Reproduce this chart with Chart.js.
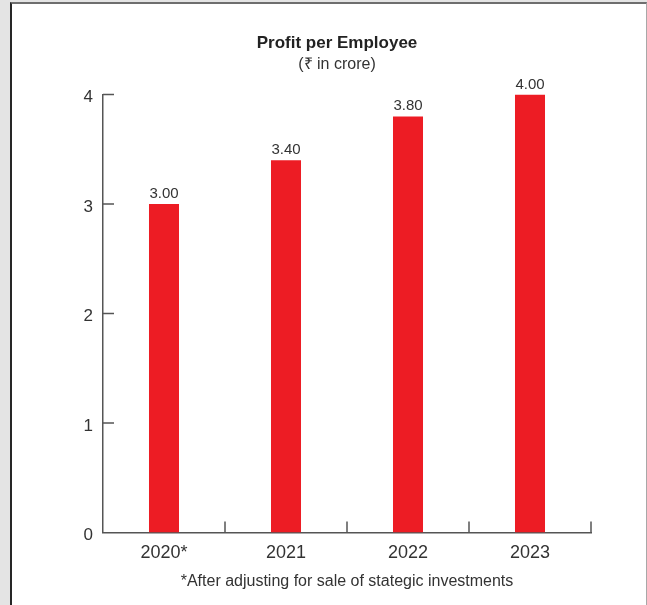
<!DOCTYPE html>
<html>
<head>
<meta charset="utf-8">
<title>Profit per Employee</title>
<script src="https://cdn.jsdelivr.net/npm/chart.js@4.4.0/dist/chart.umd.min.js"></script>
<style>
    html, body { margin: 0; padding: 0; background: #e4e4e4; }
    body { width: 647px; height: 605px; overflow: hidden; position: relative; }
    .panel {
        position: absolute; left: 10px; top: 2px;
        width: 634px; height: 603px;
        background: #fff;
        border-left: 2px solid #262626;
        border-top: 2px solid #6e6e6e;
        border-right: 1px solid #a8a8a8;
    }
    .panel canvas { display: block; }
</style>
</head>
<body>
<div class="panel">
    <canvas id="profitChart" width="634" height="601"></canvas>
</div>
<script>
// Datos del gráfico
const years = ['2020*', '2021', '2022', '2023'];
const profitPerEmployee = [3.00, 3.40, 3.80, 4.00];
const yTicks = [0, 1, 2, 3, 4];
const chartTitle = 'Profit per Employee';
const chartSubtitle = '(₹ in crore)';
const footnote = '*After adjusting for sale of stategic investments';

const AXIS_COLOR = '#555';
const TEXT_COLOR = '#333';

// Etiquetas de valor encima de cada barra
const valueLabels = {
    id: 'valueLabels',
    afterDatasetsDraw(chart) {
        const ctx = chart.ctx;
        const meta = chart.getDatasetMeta(0);
        ctx.save();
        ctx.font = '15px "Liberation Sans", Arial, sans-serif';
        ctx.fillStyle = TEXT_COLOR;
        ctx.textAlign = 'center';
        ctx.textBaseline = 'alphabetic';
        meta.data.forEach((bar, i) => {
            ctx.fillText(profitPerEmployee[i].toFixed(2), bar.x, bar.y - 6);
        });
        ctx.restore();
    }
};

// Marcas de los ejes hacia dentro del área del gráfico
const innerTicks = {
    id: 'innerTicks',
    afterDraw(chart) {
        const { ctx, chartArea, scales: { x, y } } = chart;
        ctx.save();
        ctx.strokeStyle = AXIS_COLOR;
        ctx.lineWidth = 1.5;
        ctx.beginPath();
        yTicks.forEach(v => {
            if (v === 0) return;
            const py = y.getPixelForValue(v);
            ctx.moveTo(chartArea.left, py);
            ctx.lineTo(chartArea.left + 11, py);
        });
        years.forEach((_, i) => {
            const px = x.getPixelForValue(i + 0.5);
            ctx.moveTo(px, chartArea.bottom);
            ctx.lineTo(px, chartArea.bottom - 11);
        });
        ctx.stroke();
        ctx.restore();
    }
};

Chart.defaults.font.family = '"Liberation Sans", Arial, sans-serif';
Chart.defaults.color = TEXT_COLOR;

new Chart(document.getElementById('profitChart'), {
    type: 'bar',
    data: {
        labels: years,
        datasets: [{
            data: profitPerEmployee,
            backgroundColor: '#ed1c24',
            borderWidth: 0,
            categoryPercentage: 1,
            barPercentage: 0.246
        }]
    },
    options: {
        responsive: false,
        animation: false,
        layout: { padding: { left: 16, right: 0, top: 0, bottom: 0 } },
        plugins: {
            legend: { display: false },
            tooltip: { enabled: false },
            title: {
                display: true,
                text: chartTitle,
                color: '#222',
                font: { size: 17, weight: 'bold' },
                padding: { top: 29, bottom: 0 }
            },
            subtitle: {
                display: true,
                text: chartSubtitle,
                color: TEXT_COLOR,
                font: { size: 16 },
                padding: { top: 2, bottom: 20 }
            }
        },
        scales: {
            x: {
                grid: { display: false, drawTicks: false },
                border: { display: true, color: AXIS_COLOR, width: 1.5 },
                ticks: { color: TEXT_COLOR, font: { size: 18 }, padding: 10 },
                title: {
                    display: true,
                    text: footnote,
                    color: TEXT_COLOR,
                    font: { size: 16 },
                    padding: { top: 0, bottom: 14 }
                },
                afterFit(scale) { scale.height = 72.5; }
            },
            y: {
                min: 0,
                max: 4,
                afterBuildTicks(scale) {
                    scale.ticks = yTicks.map(v => ({ value: v }));
                },
                grid: { display: false, drawTicks: false },
                border: { display: true, color: AXIS_COLOR, width: 1.5 },
                ticks: { color: TEXT_COLOR, font: { size: 17 }, padding: 10, labelOffset: 3 },
                afterFit(scale) { scale.width = 75; }
            },
            // eje vacío a la derecha para reservar el margen
            yRight: {
                position: 'right',
                display: true,
                grid: { display: false, drawTicks: false },
                border: { display: false },
                ticks: { display: false },
                afterFit(scale) { scale.width = 55; }
            }
        }
    },
    plugins: [valueLabels, innerTicks]
});
</script>
</body>
</html>
